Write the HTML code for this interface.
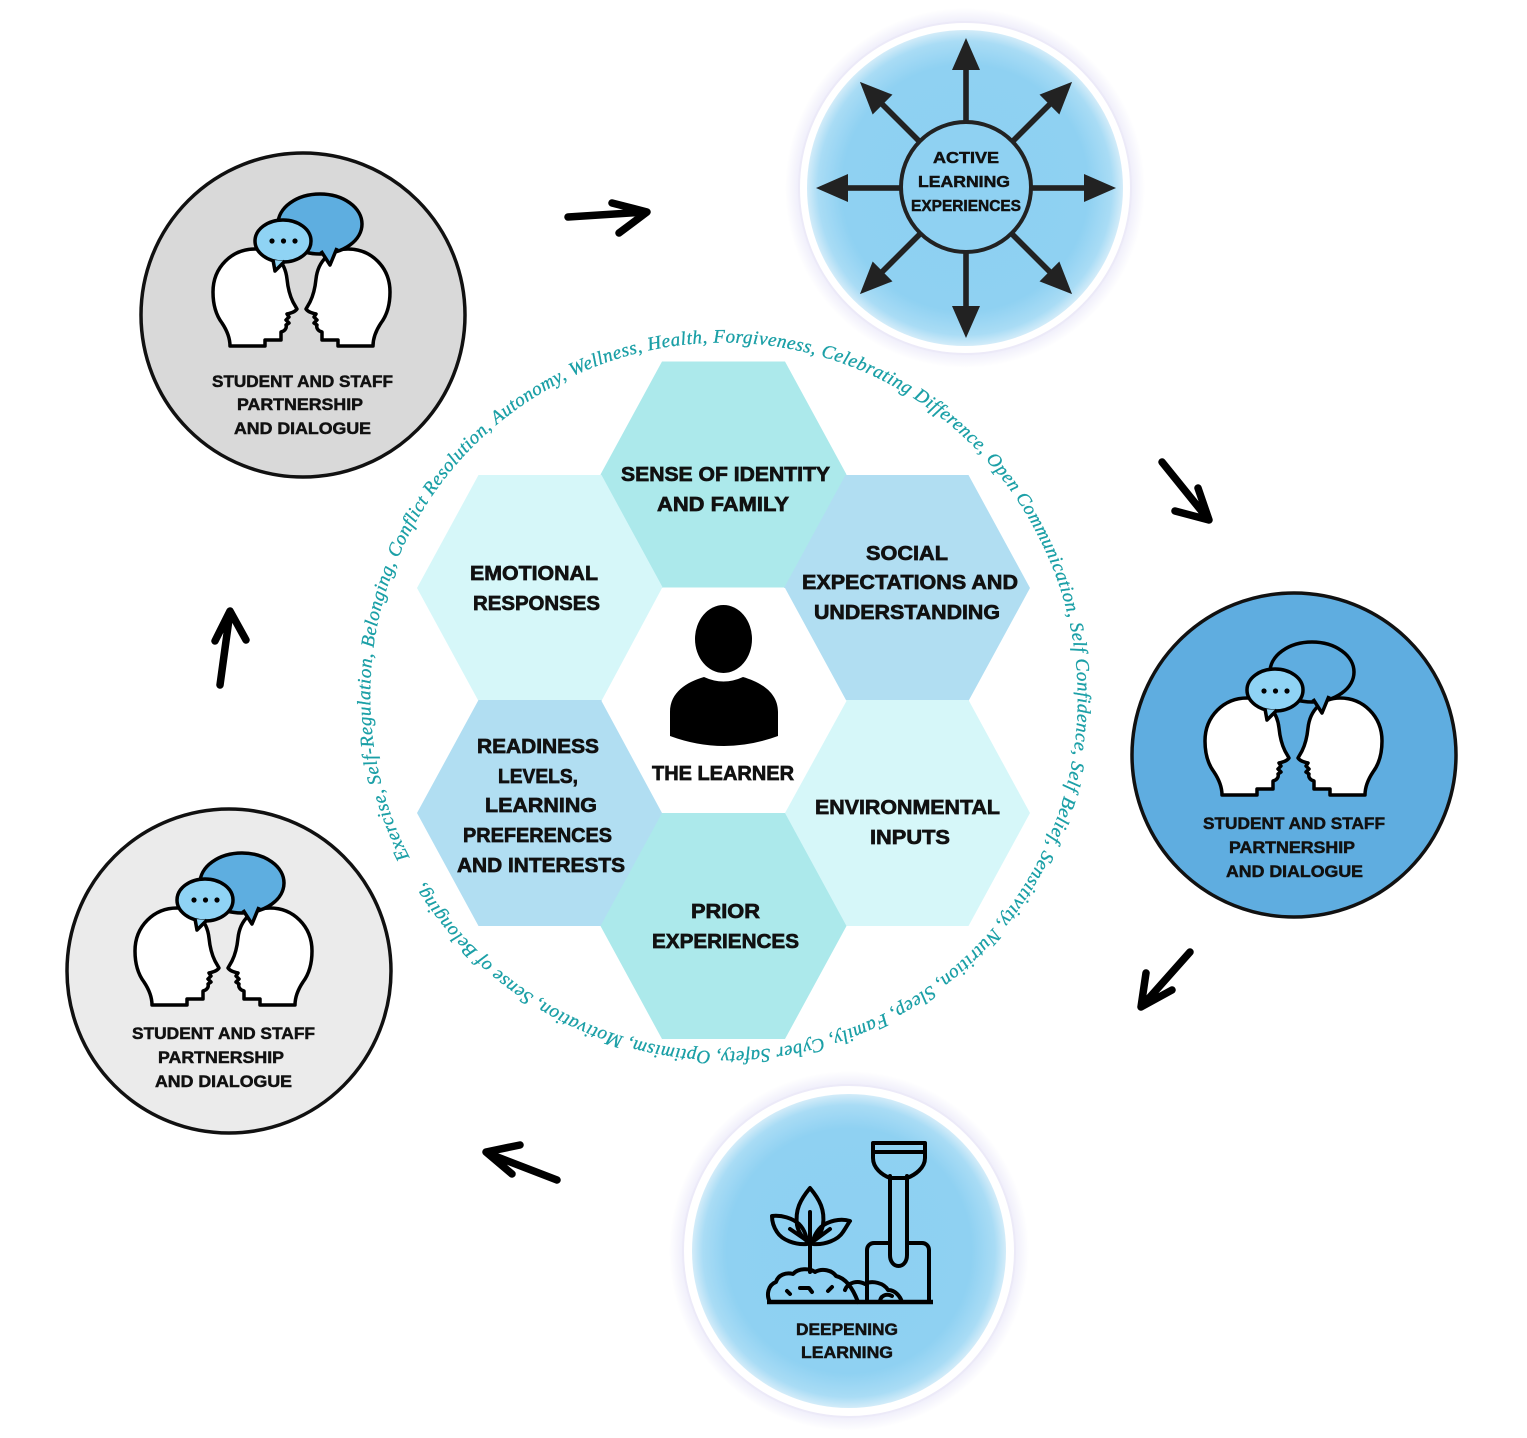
<!DOCTYPE html>
<html>
<head>
<meta charset="utf-8">
<style>
  html, body { margin: 0; padding: 0; background: #ffffff; }
  svg { display: block; }
  .hx { font-family: "Liberation Sans", sans-serif; font-weight: bold; font-size: 20.5px; fill: #111111; stroke: #111111; stroke-width: 0.7px; }
  .lb { font-family: "Liberation Sans", sans-serif; font-weight: bold; font-size: 16.5px; fill: #111111; stroke: #111111; stroke-width: 0.5px; }
  .ring { font-family: "Liberation Serif", serif; font-style: italic; font-size: 19px; fill: #1a9fa6; stroke: #1a9fa6; stroke-width: 0.3px; }
</style>
</head>
<body>
<svg width="1527" height="1438" viewBox="0 0 1527 1438" xmlns="http://www.w3.org/2000/svg">
  <defs>
    <radialGradient id="blue" cx="50%" cy="50%" r="50%">
      <stop offset="0" stop-color="#8dd0f2"/>
      <stop offset="0.78" stop-color="#8fd1f2"/>
      <stop offset="0.93" stop-color="#a9dcf5"/>
      <stop offset="1" stop-color="#d3ecf9"/>
    </radialGradient>
    <radialGradient id="halo" cx="50%" cy="50%" r="50%">
      <stop offset="0.86" stop-color="#e8e6f8"/>
      <stop offset="0.93" stop-color="#f1f0fb"/>
      <stop offset="1" stop-color="#ffffff"/>
    </radialGradient>
    <path id="head" d="M17,97 L52,97 L52,91 L68,91 L68,83 C72,82 74,79 73,76 L76,74 L73,71 L76,68 L74,65 C78,64 82,63 84,60 L80,53 C77,47 75,40 74,30 C72,12 60,0 42,0 C19,0 0,18 0,43 C0,55 3,66 9,74 C13,80 17,88 17,97 Z"/>
    <path id="ringpath" d="M409.5,857.3 A353,353 0 1 1 1038.5,536.7 A353,353 0 1 1 409.5,857.3"/>
  </defs>

  <!-- ===== Hexagons ===== -->
  <g>
    <polygon fill="#ace9eb" points="600.5,474.5 662,361.5 785,361.5 846.5,474.5 785,587.5 662,587.5"/>
    <polygon fill="#d6f7f9" points="417,588 478.5,475 601.5,475 663,588 601.5,701 478.5,701"/>
    <polygon fill="#b1def2" points="784,588 845.5,475 968.5,475 1030,588 968.5,701 845.5,701"/>
    <polygon fill="#b1def2" points="417,813 478.5,700 601.5,700 663,813 601.5,926 478.5,926"/>
    <polygon fill="#d6f7f9" points="784,813 845.5,700 968.5,700 1030,813 968.5,926 845.5,926"/>
    <polygon fill="#ace9eb" points="600.5,926 662,813 785,813 846.5,926 785,1039 662,1039"/>
    <polygon fill="#ffffff" points="601.5,701 662,588 785,588 846.5,701 785,813 662,813"/>
  </g>

  <!-- Person icon -->
  <g fill="#000000">
    <ellipse cx="723.5" cy="639" rx="28.5" ry="34"/>
    <path d="M670,736 L670,712 C670,692 687,682 704,677 Q723.5,686 743,677 C760,682 778,692 778,712 L778,736 Q724,756 670,736 Z"/>
  </g>

  <!-- Hex texts -->
  <g class="hx">
    <text x="621" y="481" textLength="209" lengthAdjust="spacingAndGlyphs">SENSE OF IDENTITY</text>
    <text x="657" y="511" textLength="132" lengthAdjust="spacingAndGlyphs">AND FAMILY</text>
    <text x="470" y="580" textLength="128" lengthAdjust="spacingAndGlyphs">EMOTIONAL</text>
    <text x="473" y="610" textLength="127" lengthAdjust="spacingAndGlyphs">RESPONSES</text>
    <text x="866" y="560" textLength="82" lengthAdjust="spacingAndGlyphs">SOCIAL</text>
    <text x="802" y="589" textLength="216" lengthAdjust="spacingAndGlyphs">EXPECTATIONS AND</text>
    <text x="814" y="619" textLength="186" lengthAdjust="spacingAndGlyphs">UNDERSTANDING</text>
    <text x="652" y="780" textLength="142" lengthAdjust="spacingAndGlyphs">THE LEARNER</text>
    <text x="477" y="753" textLength="122" lengthAdjust="spacingAndGlyphs">READINESS</text>
    <text x="498" y="783" textLength="80" lengthAdjust="spacingAndGlyphs">LEVELS,</text>
    <text x="485" y="812" textLength="112" lengthAdjust="spacingAndGlyphs">LEARNING</text>
    <text x="463" y="842" textLength="149" lengthAdjust="spacingAndGlyphs">PREFERENCES</text>
    <text x="457" y="872" textLength="168" lengthAdjust="spacingAndGlyphs">AND INTERESTS</text>
    <text x="815" y="814" textLength="185" lengthAdjust="spacingAndGlyphs">ENVIRONMENTAL</text>
    <text x="870" y="844" textLength="80" lengthAdjust="spacingAndGlyphs">INPUTS</text>
    <text x="691" y="918" textLength="69" lengthAdjust="spacingAndGlyphs">PRIOR</text>
    <text x="652" y="948" textLength="147" lengthAdjust="spacingAndGlyphs">EXPERIENCES</text>
  </g>

  <!-- Circular script text -->
  <text class="ring"><textPath href="#ringpath" textLength="2195" lengthAdjust="spacing">Exercise, Self-Regulation, Belonging, Conflict Resolution, Autonomy, Wellness, Health, Forgiveness, Celebrating Difference, Open Communication, Self Confidence, Self Belief, Sensitivity, Nutrition, Sleep, Family, Cyber Safety, Optimism, Motivation, Sense of Belonging,</textPath></text>

  <!-- ===== Top-left grey circle ===== -->
  <circle cx="303" cy="315" r="162" fill="#d9d9d9" stroke="#111111" stroke-width="3.5"/>
  <g transform="translate(213,249)" stroke="#000000" stroke-width="3.5" stroke-linejoin="round">
    <use href="#head" fill="#ffffff"/>
    <use href="#head" fill="#ffffff" transform="translate(177,0) scale(-1,1)"/>
    <ellipse cx="107" cy="-25" rx="42" ry="30" fill="#5eaee0"/>
    <path d="M108,2 L117,16 L124,-1" fill="#5eaee0"/>
    <ellipse cx="70" cy="-8" rx="28" ry="21" fill="#8fd3f4"/>
    <path d="M60,11 L62,22 L72,12" fill="#8fd3f4"/>
    <g stroke="none" fill="#000000">
      <circle cx="59" cy="-8" r="2.6"/><circle cx="70.5" cy="-8" r="2.6"/><circle cx="82" cy="-8" r="2.6"/>
    </g>
  </g>
  <g class="lb">
    <text x="212" y="387" textLength="181" lengthAdjust="spacingAndGlyphs">STUDENT AND STAFF</text>
    <text x="237" y="410" textLength="126" lengthAdjust="spacingAndGlyphs">PARTNERSHIP</text>
    <text x="234" y="434" textLength="137" lengthAdjust="spacingAndGlyphs">AND DIALOGUE</text>
  </g>

  <!-- ===== Bottom-left light grey circle ===== -->
  <circle cx="229" cy="971" r="162" fill="#ebebeb" stroke="#111111" stroke-width="3.5"/>
  <g transform="translate(135,908)" stroke="#000000" stroke-width="3.5" stroke-linejoin="round">
    <use href="#head" fill="#ffffff"/>
    <use href="#head" fill="#ffffff" transform="translate(177,0) scale(-1,1)"/>
    <ellipse cx="107" cy="-25" rx="42" ry="30" fill="#5eaee0"/>
    <path d="M108,2 L117,16 L124,-1" fill="#5eaee0"/>
    <ellipse cx="70" cy="-8" rx="28" ry="21" fill="#8fd3f4"/>
    <path d="M60,11 L62,22 L72,12" fill="#8fd3f4"/>
    <g stroke="none" fill="#000000">
      <circle cx="59" cy="-8" r="2.6"/><circle cx="70.5" cy="-8" r="2.6"/><circle cx="82" cy="-8" r="2.6"/>
    </g>
  </g>
  <g class="lb">
    <text x="132" y="1039" textLength="183" lengthAdjust="spacingAndGlyphs">STUDENT AND STAFF</text>
    <text x="158" y="1063" textLength="126" lengthAdjust="spacingAndGlyphs">PARTNERSHIP</text>
    <text x="155" y="1087" textLength="137" lengthAdjust="spacingAndGlyphs">AND DIALOGUE</text>
  </g>

  <!-- ===== Right blue circle ===== -->
  <circle cx="1294" cy="755" r="162" fill="#5fade0" stroke="#111111" stroke-width="3.5"/>
  <g transform="translate(1205,698)" stroke="#000000" stroke-width="3.5" stroke-linejoin="round">
    <use href="#head" fill="#ffffff"/>
    <use href="#head" fill="#ffffff" transform="translate(177,0) scale(-1,1)"/>
    <ellipse cx="107" cy="-26" rx="42" ry="30" fill="#5fade0"/>
    <path d="M108,1 L117,15 L124,-2" fill="#5fade0"/>
    <ellipse cx="70" cy="-8" rx="28" ry="21" fill="#8fd3f4"/>
    <path d="M60,11 L62,22 L72,12" fill="#8fd3f4"/>
    <g stroke="none" fill="#000000">
      <circle cx="59" cy="-7" r="2.6"/><circle cx="70.5" cy="-7" r="2.6"/><circle cx="82" cy="-7" r="2.6"/>
    </g>
  </g>
  <g class="lb">
    <text x="1203" y="829" textLength="182" lengthAdjust="spacingAndGlyphs">STUDENT AND STAFF</text>
    <text x="1229" y="853" textLength="126" lengthAdjust="spacingAndGlyphs">PARTNERSHIP</text>
    <text x="1226" y="877" textLength="137" lengthAdjust="spacingAndGlyphs">AND DIALOGUE</text>
  </g>

  <!-- ===== Active learning circle ===== -->
  <circle cx="965" cy="188" r="180" fill="url(#halo)"/>
  <circle cx="965" cy="188" r="166" fill="#ffffff" stroke="#eceaf8" stroke-width="2"/>
  <circle cx="965" cy="188" r="158" fill="url(#blue)"/>
  <g fill="#222222" stroke="none">
    <g id="arr">
      <rect x="963.2" y="66" width="5.6" height="58"/>
      <polygon points="966,38 952,70 980,70"/>
    </g>
    <use href="#arr" transform="rotate(45 966 188)"/>
    <use href="#arr" transform="rotate(90 966 188)"/>
    <use href="#arr" transform="rotate(135 966 188)"/>
    <use href="#arr" transform="rotate(180 966 188)"/>
    <use href="#arr" transform="rotate(225 966 188)"/>
    <use href="#arr" transform="rotate(270 966 188)"/>
    <use href="#arr" transform="rotate(315 966 188)"/>
  </g>
  <circle cx="966" cy="187" r="65" fill="#8fd1f2" stroke="#222222" stroke-width="4"/>
  <g class="lb" style="font-size:16px">
    <text x="933" y="163" textLength="66" lengthAdjust="spacingAndGlyphs">ACTIVE</text>
    <text x="918" y="187" textLength="92" lengthAdjust="spacingAndGlyphs">LEARNING</text>
    <text x="911" y="211" textLength="110" lengthAdjust="spacingAndGlyphs">EXPERIENCES</text>
  </g>

  <!-- ===== Deepening learning circle ===== -->
  <circle cx="849" cy="1251" r="180" fill="url(#halo)"/>
  <circle cx="849" cy="1251" r="166" fill="#ffffff" stroke="#eceaf8" stroke-width="2"/>
  <circle cx="849" cy="1251" r="157" fill="url(#blue)"/>
  <g fill="none" stroke="#000000" stroke-width="4" stroke-linejoin="round" stroke-linecap="round">
    <path d="M873,1143 L925,1143 L925,1158 C925,1168 915,1175 907,1178 L890,1178 C882,1175 873,1168 873,1158 Z"/>
    <path d="M873,1152 L925,1152"/>
    <path d="M890,1176 L890,1255 C890,1262 894,1266 898.5,1266 C903,1266 907,1262 907,1255 L907,1176"/>
    <path d="M867,1300 L867,1250 C867,1246 870,1243 874,1243 L890,1243 M907,1243 L922,1243 C926,1243 929,1246 929,1250 L929,1300"/>
    <path d="M767,1302 L933,1302" stroke-width="4.5" stroke-linecap="butt"/>
    <path d="M770,1302 C766,1295 768,1285 776,1282 C778,1275 786,1272 793,1274 C798,1268 810,1268 815,1272 C822,1268 832,1270 836,1276 C845,1278 852,1286 858,1302"/>
    <path d="M845,1290 C848,1282 858,1280 865,1284 C872,1280 884,1283 888,1290 C895,1290 900,1296 902,1302"/>
    <path d="M880,1302 C880,1296 886,1293 892,1296"/>
    <path d="M787,1291 L790,1294 M800,1288 L809,1288 L812,1292 M828,1291 L832,1287"/>
    <path d="M810,1272 L810,1212"/>
    <path d="M810,1188 C800,1200 795,1210 797,1225 C799,1235 805,1240 810,1243 C815,1240 821,1235 823,1225 C825,1210 820,1200 810,1188 Z"/>
    <path d="M807,1244 C795,1245 782,1240 777,1232 C773,1226 772,1220 772,1216 C782,1215 792,1218 799,1224 C805,1230 807,1238 807,1244 Z"/>
    <path d="M813,1244 C825,1245 838,1240 843,1232 C847,1226 849,1222 850,1221 C840,1218 828,1221 821,1227 C816,1232 813,1238 813,1244 Z"/>
    <path d="M790,1229 L806,1240 M830,1229 L815,1240"/>
  </g>
  <g class="lb">
    <text x="796" y="1335" textLength="102" lengthAdjust="spacingAndGlyphs">DEEPENING</text>
    <text x="801" y="1358" textLength="92" lengthAdjust="spacingAndGlyphs">LEARNING</text>
  </g>

  <!-- ===== Hand-drawn arrows ===== -->
  <g fill="none" stroke="#000000" stroke-width="7.5" stroke-linecap="round" stroke-linejoin="round">
    <path d="M568,217 L646,212 M612,203 L647,212 L619,233"/>
    <path d="M1162,462 L1208,519 M1198,488 L1209,520 L1175,511"/>
    <path d="M1190,952 L1142,1006 M1146,973 L1141,1007 L1172,990"/>
    <path d="M557,1180 L487,1153 M520,1145 L486,1152 L512,1174"/>
    <path d="M220,685 L230,612 M215,641 L230,611 L246,640"/>
  </g>
</svg>
</body>
</html>
